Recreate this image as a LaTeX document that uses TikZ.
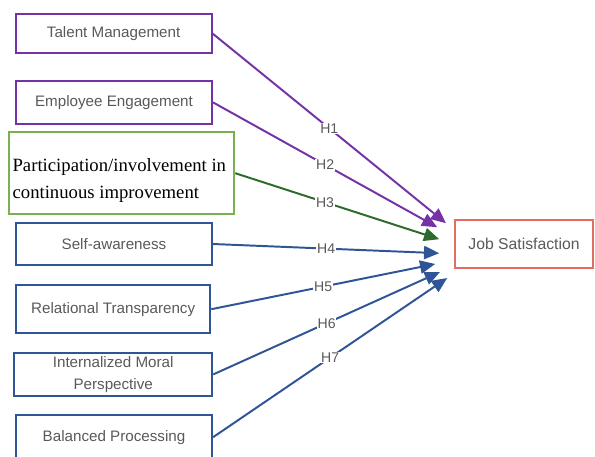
\documentclass[tikz,border=0pt]{standalone}
\usepackage{fontspec}
\setmainfont{Liberation Sans}
\newfontfamily\serifbox{Liberation Serif}
\usepackage{xcolor}
\usepackage{tikz}
\usetikzlibrary{arrows.meta}

\definecolor{hpurple}{HTML}{7432A6}
\definecolor{hgreenbox}{HTML}{78B054}
\definecolor{hgreen}{HTML}{2C6B2C}
\definecolor{hblue}{HTML}{2F5597}
\definecolor{hred}{HTML}{E26E62}
\definecolor{txtgray}{HTML}{595959}

\begin{document}
\begin{tikzpicture}[
    factor/.style={rectangle, draw, line width=1.5pt, minimum width=4.9cm, minimum height=1.05cm, inner sep=0pt, align=center, font=\fontsize{10.8}{15.6}\selectfont, text=txtgray},
    hyp/.style={-{Triangle[length=3.8mm,width=3.3mm]}, line width=1.4pt},
    hlabel/.style={fill=white, inner sep=0.6pt, font=\fontsize{10}{12}\selectfont, text=txtgray}
]
    \useasboundingbox (0,0) rectangle (14.875,-11.4);

    % HR practices
    \node[factor, draw=hpurple, minimum height=0.98cm] (tm) at (2.84,-0.84) {Talent Management};
    \node[factor, draw=hpurple, minimum height=1.08cm] (ee) at (2.85,-2.56) {Employee Engagement};
    \node[factor, draw=hgreenbox, minimum width=5.63cm, minimum height=2.05cm, text width=5.45cm, inner xsep=0.09cm,
          text height=19pt, align=flush left, text=black, font=\serifbox\fontsize{13.3}{19.2}\selectfont] (pci) at (3.04,-4.33)
          {Participation/involvement in\\continuous improvement};

    % Authentic leadership
    \node[factor, draw=hblue] (sa) at (2.85,-6.1) {Self-awareness};
    \node[factor, draw=hblue, minimum width=4.85cm, minimum height=1.2cm] (rt) at (2.83,-7.73) {Relational Transparency};
    \node[factor, draw=hblue, minimum width=4.95cm, minimum height=1.08cm] (imp) at (2.83,-9.36) {Internalized Moral\\Perspective};
    \node[factor, draw=hblue, minimum height=1.1cm] (bp) at (2.85,-10.93) {Balanced Processing};

    % Outcome
    \node[factor, draw=hred, minimum width=3.45cm, minimum height=1.2cm, font=\fontsize{11.2}{13}\selectfont] (js) at (13.1,-6.1) {Job Satisfaction};

    % Arrow tips in front of the outcome
    \coordinate (t1) at (11.15,-5.58);
    \coordinate (t2) at (10.93,-5.68);
    \coordinate (t3) at (10.98,-5.98);
    \coordinate (t4) at (10.98,-6.33);
    \coordinate (t5) at (10.88,-6.60);
    \coordinate (t6) at (11.00,-6.80);
    \coordinate (t7) at (11.18,-6.95);

    % Hypotheses
    \draw[hyp, hpurple] (tm.east) -- node[hlabel] {H1} (t1);
    \draw[hyp, hpurple] (ee.east) -- node[hlabel] {H2} (t2);
    \draw[hyp, hgreen] (pci.east) -- node[hlabel, pos=0.44] {H3} (t3);
    \draw[hyp, hblue] (sa.east) -- node[hlabel] {H4} (t4);
    \draw[hyp, hblue] (rt.east) -- node[hlabel] {H5} (t5);
    \draw[hyp, hblue] (imp.east) -- node[hlabel] {H6} (t6);
    \draw[hyp, hblue] (bp.east) -- node[hlabel] {H7} (t7);
\end{tikzpicture}
\end{document}
